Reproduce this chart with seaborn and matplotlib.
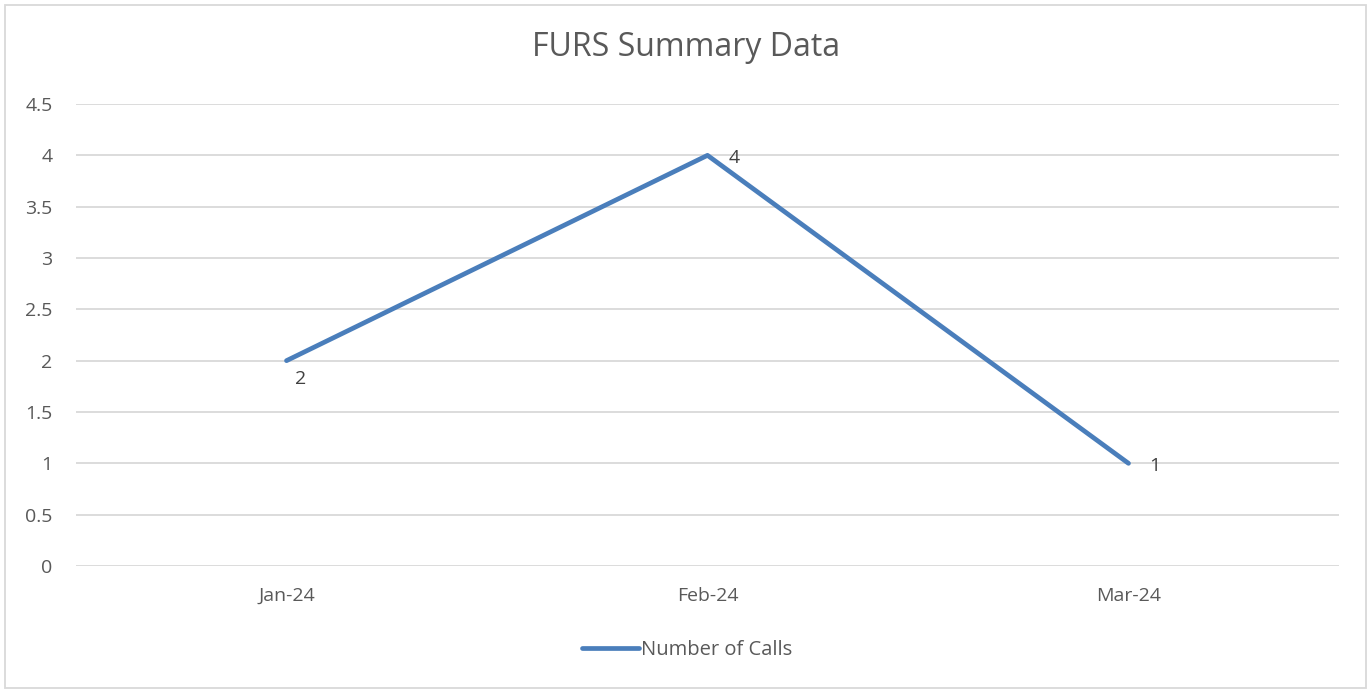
import matplotlib
matplotlib.use("Agg")
import matplotlib.pyplot as plt
import seaborn as sns
import pandas as pd
from matplotlib.patches import Rectangle

months = ["Jan-24", "Feb-24", "Mar-24"]
calls = [2, 4, 1]
series_name = "Number of Calls"
y_ticks = [0, 0.5, 1, 1.5, 2, 2.5, 3, 3.5, 4, 4.5]
y_tick_labels = ["0", "0.5", "1", "1.5", "2", "2.5", "3", "3.5", "4", "4.5"]

sns.set_theme(style="white")
plt.rcParams['font.family'] = ['Open Sans', 'DejaVu Sans']

df = pd.DataFrame({"Month": months, series_name: calls})

fig = plt.figure(figsize=(13.72, 6.90), dpi=100)
ax = fig.add_axes([76/1372, 1-566/690, (1339-76)/1372, (566-104)/690])

line_color = "#4A7EBB"
text_color = "#595959"
grid_color = "#D9D9D9"

sns.lineplot(data=df, x="Month", y=series_name, ax=ax, color=line_color,
             linewidth=3.4, label=series_name, solid_capstyle="round", sort=False)

ax.set_xlim(-0.5, 2.5)
ax.set_ylim(0, 4.5)
ax.set_yticks(y_ticks)
ax.set_yticklabels(y_tick_labels)
ax.yaxis.grid(True, color=grid_color, linewidth=1.3)
ax.xaxis.grid(False)
ax.set_axisbelow(True)
for s in ax.spines.values():
    s.set_visible(False)
ax.set_xlabel("")
ax.set_ylabel("")
ax.tick_params(axis="both", length=0, labelsize=14, colors=text_color)
ax.tick_params(axis="y", pad=17)
ax.tick_params(axis="x", pad=15)

# data labels
offsets = [(9, -18), (21, -3), (21, -3)]
for i, (m, v) in enumerate(zip(months, calls)):
    ax.annotate(str(v), (i, v), xytext=offsets[i], textcoords="offset pixels",
                ha="left", va="center", fontsize=14, color="#404040")

fig.text(0.5, 1-48/690, "FURS Summary Data", ha="center", va="center",
         fontsize=23, color=text_color)

leg = ax.legend(loc="center", bbox_to_anchor=((687-76)/(1339-76), (566-650)/(566-104)),
                frameon=False, fontsize=14.5, handlelength=2.8, handletextpad=0.1)
for t in leg.get_texts():
    t.set_color(text_color)

fig.patches.append(Rectangle((5/1372, 1-688/690), 1361/1372, 683/690,
                             transform=fig.transFigure, fill=False,
                             edgecolor="#D9D9D9", linewidth=1.3))

fig.savefig("out.png", dpi=100)
